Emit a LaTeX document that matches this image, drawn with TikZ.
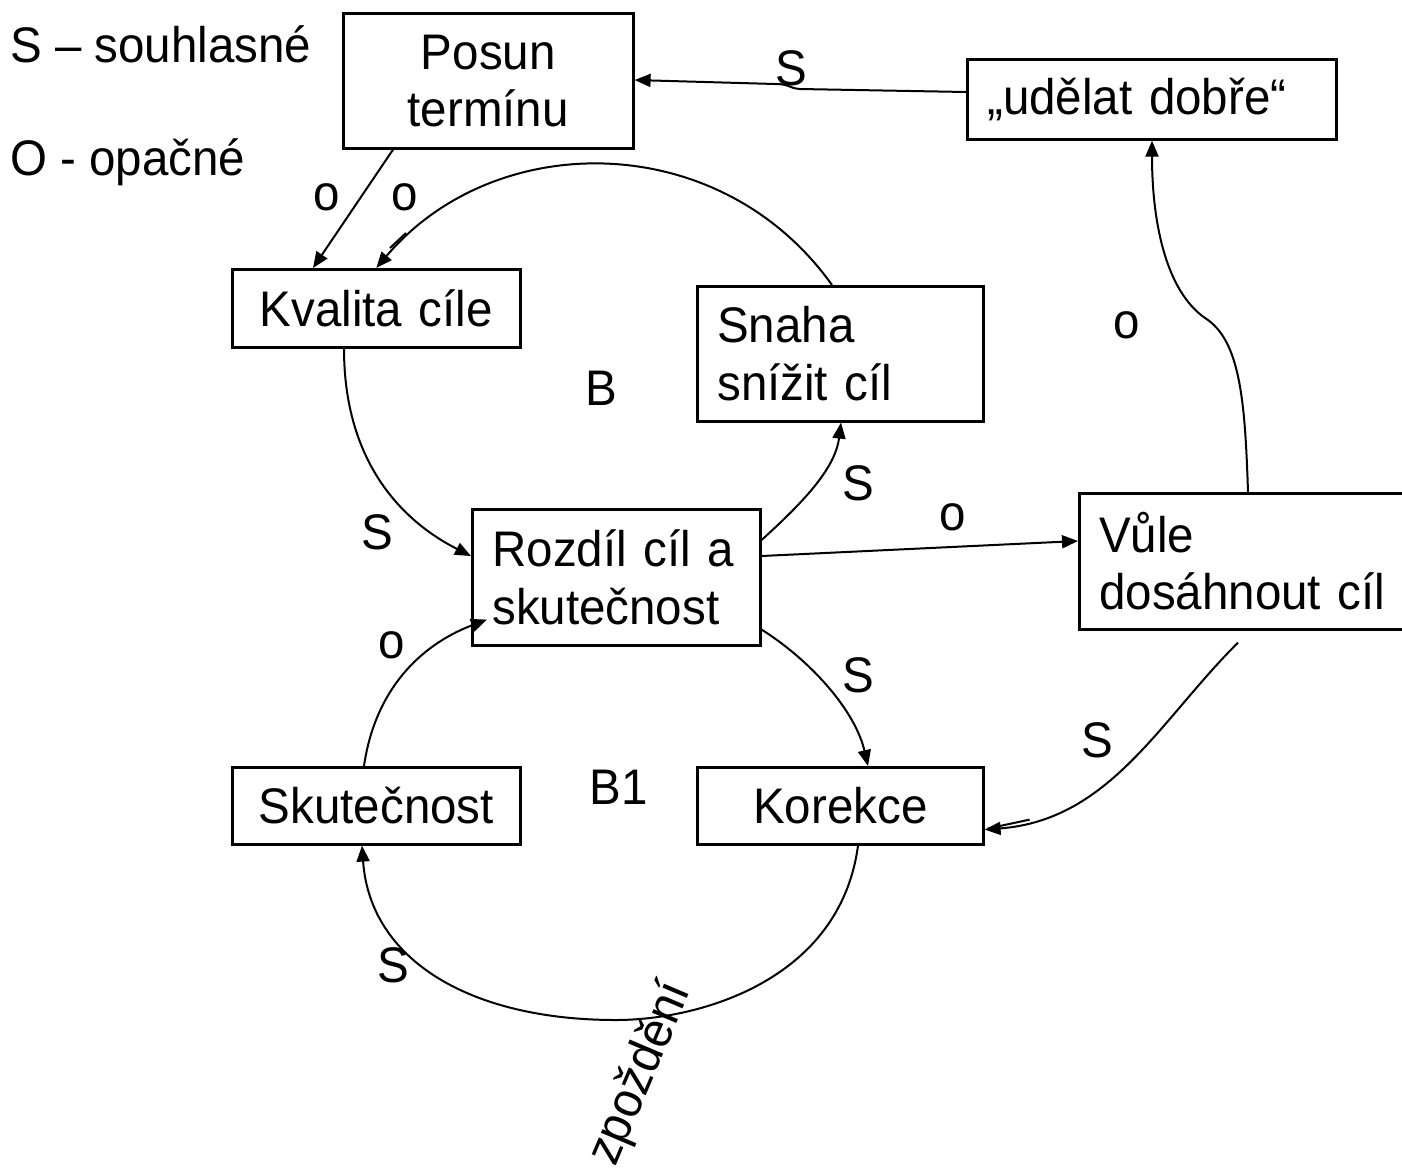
\documentclass[tikz,border=0pt]{standalone}
\usepackage{fontspec}
\setmainfont[FakeStretch=0.95]{Liberation Sans}
\usetikzlibrary{arrows.meta}
\begin{document}
\begin{tikzpicture}[x=1pt,y=-1pt,
  every node/.style={font=\fontsize{50pt}{57.5pt}\selectfont},
  box/.style={draw, line width=2.6pt, inner xsep=20pt, inner ysep=0pt, anchor=north west},
  lbl/.style={inner sep=0pt},
  conn/.style={line width=2pt, -{Triangle[length=16pt,width=13pt]}},
  trace/.style={line width=2pt}]
\useasboundingbox (0,0) rectangle (1402,1168);
% boxes
\node[box, text width=250pt, minimum height=135pt, align=center] (posun) at (342,12) {Posun\\termínu};
\node[box, text width=329pt, minimum height=80pt, align=left] (udelat) at (966,58) {„udělat dobře“};
\node[box, text width=248pt, minimum height=78pt, align=center] (kval) at (231,268) {Kvalita cíle};
\node[box, text width=246pt, minimum height=135pt, align=left] (snaha) at (696,285) {Snaha\\snížit cíl};
\node[box, text width=248pt, minimum height=136pt, align=left] (rozdil) at (471,508) {Rozdíl cíl a\\skutečnost};
\node[box, text width=287pt, minimum height=136pt, align=left] (vule) at (1078,492) {Vůle\\dosáhnout cíl};
\node[box, text width=248pt, minimum height=77pt, align=center] (skut) at (231,766) {Skutečnost};
\node[box, text width=246pt, minimum height=77pt, align=center] (kor) at (696,766) {Korekce};
% legend
\node[lbl, anchor=base west] (leg1) at (10,62) {S – souhlasné};
\node[lbl, anchor=base west] (leg2) at (10,175) {O - opačné};
% labels
\node[lbl] (s1) at (791,68) {S};
\node[lbl] (o1) at (327,197) {o};
\node[lbl] (o2) at (405,197) {o};
\node[lbl] (o3) at (1127,325) {o};
\node[lbl] (bB) at (601,388) {B};
\node[lbl] (s2) at (858,483) {S};
\node[lbl] (o4) at (953,517) {o};
\node[lbl] (s3) at (377,532) {S};
\node[lbl] (o5) at (392,645) {o};
\node[lbl] (s4) at (858,675) {S};
\node[lbl] (s5) at (1097,740) {S};
\node[lbl] (bB1) at (619,787) {B1};
\node[lbl] (s6) at (393,965) {S};
\node[lbl, rotate=67] (zp) at (641,1074) {zpoždění};
% connectors
\draw[conn] ([yshift=-34pt]udelat.north west) -- (800,89) .. controls (788,88) and (790,84) .. (775,84) -- ([yshift=-68pt]posun.north east);
\draw[conn] ([xshift=51pt]posun.south west) -- ([xshift=82pt]kval.north west);
\draw[conn] ([xshift=136pt]snaha.north west) .. controls (720,128) and (495,128) .. (kval.north);
\draw[conn] ([xshift=113pt]kval.south west) .. controls (344,460) and (400,520) .. ([yshift=-48pt]rozdil.north west);
\draw[conn] ([yshift=-32pt]rozdil.north east) .. controls (800,505) and (835,470) .. ([xshift=145pt]snaha.south west);
\draw[conn] ([yshift=-48pt]rozdil.north east) -- ([yshift=-49pt]vule.north west);
\draw[conn] ([xshift=170pt]vule.north west) .. controls (1245,400) and (1240,340) .. (1205,318) .. controls (1165,290) and (1152,220) .. ([xshift=186pt]udelat.south west);
\draw[conn] ([yshift=17pt]rozdil.south east) .. controls (810,660) and (855,710) .. ([xshift=172pt]kor.north west);
\draw[conn] ([xshift=160pt,yshift=-12pt]vule.south west) .. controls (1160,720) and (1110,820) .. ([yshift=16pt]kor.south east);
\draw[conn] ([xshift=162pt]kor.south west) .. controls (840,980) and (700,1020) .. (616,1020) .. controls (470,1020) and (370,960) .. ([xshift=131pt]skut.south west);
\draw[conn] ([xshift=133pt]skut.north west) .. controls (375,690) and (420,645) .. ([xshift=16pt,yshift=27pt]rozdil.south west);
% small doubled strokes next to some arrowheads, as in the reference
\draw[trace] ([xshift=159pt,yshift=20pt]kval.north west) -- ([xshift=175pt,yshift=35pt]kval.north west);
\draw[trace] ([xshift=3pt,yshift=17pt]kor.south east) -- ([xshift=45pt,yshift=26pt]kor.south east);
\end{tikzpicture}
\end{document}
